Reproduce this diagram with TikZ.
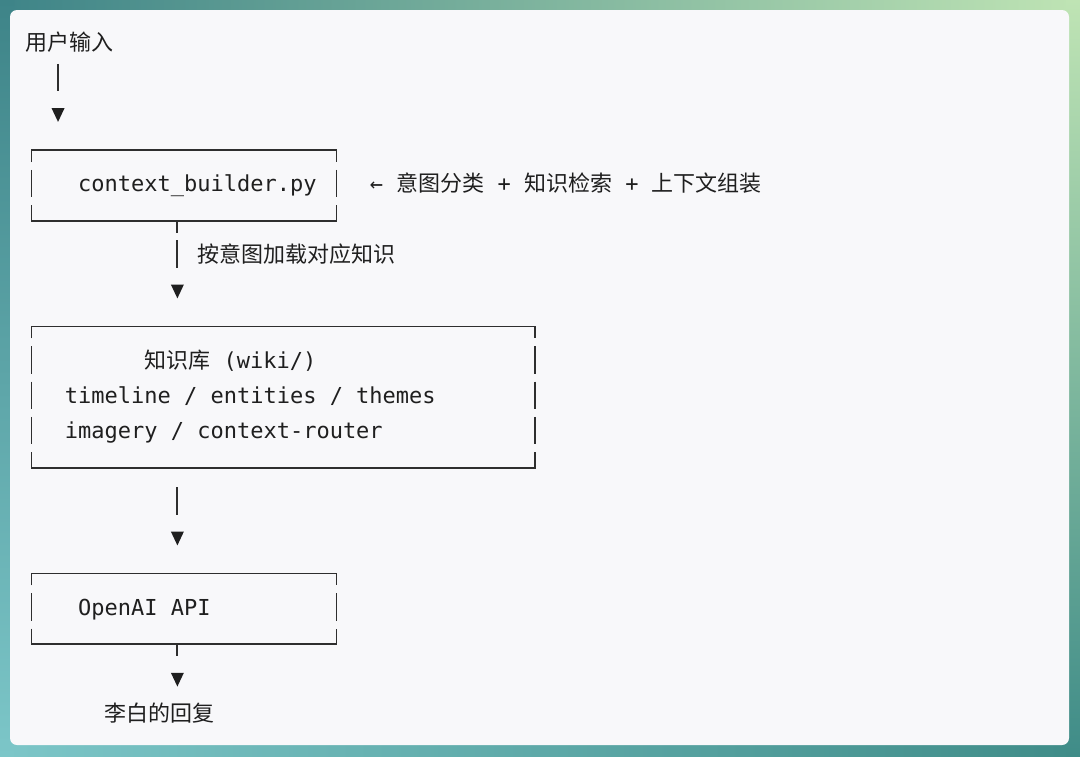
\documentclass[tikz,border=0pt]{standalone}
\usepackage{fontspec}
\setmonofont{DejaVu Sans Mono}
\newfontfamily\cjk{Noto Sans CJK SC}
\definecolor{ink}{HTML}{1F1F1F}
\definecolor{rule}{HTML}{2E2E2E}
\definecolor{card}{HTML}{F8F8FA}
\definecolor{bgTL}{HTML}{3E8488}
\definecolor{bgTR}{HTML}{BFE4B4}
\definecolor{bgBL}{HTML}{7CC6C8}
\definecolor{bgBR}{HTML}{3F8C88}
\begin{document}
\begin{tikzpicture}[x=1pt,y=-1pt,
  mono/.style={anchor=base west, inner sep=0pt, text=ink, font=\fontsize{22}{26}\selectfont\ttfamily},
  han/.style={anchor=base west, inner sep=0pt, text=ink, font=\fontsize{22}{26}\selectfont\cjk},
  border/.style={draw=rule, line width=1.9pt, line cap=butt},
  tri/.style={fill=ink, draw=none}]
% background
\useasboundingbox (0,0) rectangle (1080,756);
\fill[left color=bgTL, right color=bgTR] (0,0) rectangle (1080,14);
\fill[left color=bgBL, right color=bgBR] (0,742) rectangle (1080,756);
\fill[top color=bgTL, bottom color=bgBL] (0,0) rectangle (14,756);
\fill[top color=bgTR, bottom color=bgBR] (1066,0) rectangle (1080,756);
\fill[card, rounded corners=7pt] (10,10) rectangle (1069,745);
% helpers: row line y = 44.13+35.29*n ; column start x = 24.9+13.26*k
\def\R#1{44.13+35.29*#1}
\def\Cs#1{24.9+13.26*#1}
\def\Cc#1{31.53+13.26*#1}
% texts
\node[han] (input) at ({\Cs{0}},{\R{0}+6.4}) {用户输入};
\node[mono] (builder) at ({\Cs{4}},{\R{4}+6.4}) {context\_builder.py};
\node[mono] (note) at ({\Cs{26}},{\R{4}+6.4}) {←~{\cjk 意图分类}~+~{\cjk 知识检索}~+~{\cjk 上下文组装}};
\node[han] (load) at ({\Cs{13}},{\R{6}+6.4}) {按意图加载对应知识};
\node[han] (wiki) at ({\Cs{9}},{\R{9}+6.4}) {知识库{\ttfamily~(wiki/)}};
\node[mono] (kb1) at ({\Cs{3}},{\R{10}+6.4}) {timeline / entities / themes};
\node[mono] (kb2) at ({\Cs{3}},{\R{11}+6.4}) {imagery / context-router};
\node[mono] (api) at ({\Cs{4}},{\R{16}+6.4}) {OpenAI API};
\node[han] (reply) at ({\Cs{6}},{\R{19}+6.4}) {李白的回复};
% boxes: (top row, bottom row, right column)
\foreach \t/\b/\r in {3/5/23, 8/12/38, 15/17/23}{
  \draw[border] ({\Cc{0}},{\R{\t}+12}) -- ({\Cc{0}},{\R{\t}}) -- ({\Cc{\r}},{\R{\t}}) -- ({\Cc{\r}},{\R{\t}+12});
  \draw[border] ({\Cc{0}},{\R{\b}-15.5}) -- ({\Cc{0}},{\R{\b}}) -- ({\Cc{\r}},{\R{\b}}) -- ({\Cc{\r}},{\R{\b}-15.5});
  \pgfmathtruncatemacro\first{\t+1}
  \pgfmathtruncatemacro\last{\b-1}
  \foreach \n in {\first,...,\last}{
    \draw[border] ({\Cc{0}},{\R{\n}-15.5}) -- ({\Cc{0}},{\R{\n}+12});
    \draw[border] ({\Cc{\r}},{\R{\n}-15.5}) -- ({\Cc{\r}},{\R{\n}+12});
  }
}
% tee stubs below boxes 1 and 3
\draw[border] ({\Cc{11}},{\R{5}}) -- ({\Cc{11}},{\R{5}+12});
\draw[border] ({\Cc{11}},{\R{17}}) -- ({\Cc{11}},{\R{17}+12});
% vertical arrow shafts
\foreach \c/\n in {2/1, 11/6, 11/13}{
  \draw[border] ({\Cc{\c}},{\R{\n}-15.5}) -- ({\Cc{\c}},{\R{\n}+12});
}
% arrow heads
\foreach \c/\n in {2/2, 11/7, 11/14, 11/18}{
  \fill[tri] ({\Cc{\c}-6.5},{\R{\n}-6.6}) -- ({\Cc{\c}+6.5},{\R{\n}-6.6}) -- ({\Cc{\c}},{\R{\n}+7.2}) -- cycle;
}
\end{tikzpicture}
\end{document}
